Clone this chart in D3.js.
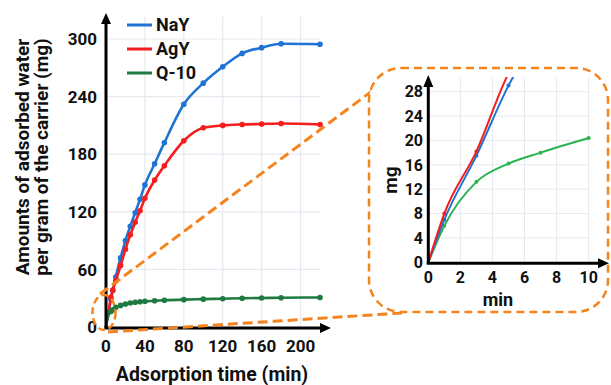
<!DOCTYPE html>
<html>
<head>
<meta charset="utf-8">
<script src="https://cdn.jsdelivr.net/npm/d3@7"></script>
<style>
  body { margin: 0; background: #fff; overflow: hidden; }
  text { font-family: "Liberation Sans Narrow", "Roboto", sans-serif; font-weight: bold; fill: #111; }
</style>
</head>
<body>
<svg id="main-svg" width="611" height="385"></svg>
<script>
'use strict';

// adsorption time (min)
const times = [0, 1, 3, 5, 7, 10, 15, 20, 25, 30, 35, 40, 50, 60, 80, 100, 120, 140, 160, 180, 220];
// mg water per gram carrier
const nay = [0, 7, 17.5, 29, 38, 52, 72, 90, 105, 119, 133, 148, 170, 192, 232, 254, 271, 285, 291, 295, 294.5];
const agy = [0, 8, 18.2, 31, 38.5, 48, 64, 81, 96, 109, 121, 134, 153, 168, 194, 207.5, 210, 211, 211.5, 212, 211];
const q10 = [0, 6, 13.2, 16.2, 18, 20.4, 22.5, 24, 25, 25.8, 26.3, 26.8, 27.3, 27.8, 28.5, 29, 29.5, 30, 30.2, 30.5, 30.8];

const series_names = ['NaY', 'AgY', 'Q-10'];
const main_ticks_x = [0, 40, 80, 120, 160, 200];
const main_ticks_y = [0, 60, 120, 180, 240, 300];
const inset_ticks_x = [0, 2, 4, 6, 8, 10];
const inset_ticks_y = [0, 4, 8, 12, 16, 20, 24, 28];

const colors = {
    'NaY': '#1f74d3',
    'AgY': '#f51d1d',
    'Q-10': '#1d7a40',
    'Q-10 inset': '#2bb34f',
    'grid': '#e6e9f0',
    'orange': '#f5841f',
};

const series = [
    {name: 'NaY', values: nay},
    {name: 'AgY', values: agy},
    {name: 'Q-10', values: q10},
];
series.forEach(s => { s.points = times.map((t, i) => ({t: t, v: s.values[i]})); });

const svg = d3.select('#main-svg');

// ---------- main chart ----------
const x = d3.scaleLinear().domain([0, 220]).range([106, 320]);
const y = d3.scaleLinear().domain([0, 300]).range([327, 39]);

const g = svg.append('g');

// grid
g.selectAll('.hgrid')
    .data(main_ticks_y.slice(1))
    .enter().append('line')
    .attr('x1', x(0)).attr('x2', x(220))
    .attr('y1', d => y(d)).attr('y2', d => y(d))
    .attr('stroke', colors.grid).attr('stroke-width', 1.2);

g.selectAll('.vgrid')
    .data(main_ticks_x.slice(1))
    .enter().append('line')
    .attr('x1', d => x(d)).attr('x2', d => x(d))
    .attr('y1', y(0)).attr('y2', 17)
    .attr('stroke', colors.grid).attr('stroke-width', 1.2);

// lines
const line = d3.line()
    .x(d => x(d.t)).y(d => y(d.v))
    .curve(d3.curveMonotoneX);

series.forEach(s => {
    g.append('path')
        .datum(s.points)
        .attr('d', line)
        .attr('fill', 'none')
        .attr('stroke', colors[s.name])
        .attr('stroke-width', 2.6);

    g.selectAll(null)
        .data(s.points.filter(p => p.t >= 5))
        .enter().append('circle')
        .attr('cx', d => x(d.t)).attr('cy', d => y(d.v))
        .attr('r', 2.8)
        .attr('fill', colors[s.name]);
});

// axes with arrows
g.append('line')
    .attr('x1', x(0)).attr('x2', x(0))
    .attr('y1', y(0) + 1.5).attr('y2', 22)
    .attr('stroke', '#000').attr('stroke-width', 3);
g.append('path')
    .attr('d', `M${x(0) - 5},24 L${x(0)},13 L${x(0) + 5},24 Z`)
    .attr('fill', '#000');

g.append('line')
    .attr('x1', x(0) - 1.5).attr('x2', 322)
    .attr('y1', y(0) + 1).attr('y2', y(0) + 1)
    .attr('stroke', '#000').attr('stroke-width', 3);
g.append('path')
    .attr('d', `M320,${y(0) + 1 - 5} L331,${y(0) + 1} L320,${y(0) + 1 + 5} Z`)
    .attr('fill', '#000');

// tick labels
g.selectAll('.ytl')
    .data(main_ticks_y)
    .enter().append('text')
    .attr('x', 97).attr('y', d => y(d))
    .attr('dy', '0.36em')
    .attr('text-anchor', 'end')
    .attr('font-size', 17)
    .text(d => d);

g.selectAll('.xtl')
    .data(main_ticks_x)
    .enter().append('text')
    .attr('x', d => x(d)).attr('y', 346)
    .attr('dy', '0.36em')
    .attr('text-anchor', 'middle')
    .attr('font-size', 17)
    .text(d => d);

// axis titles
g.append('text')
    .attr('x', 212).attr('y', 374)
    .attr('dy', '0.36em')
    .attr('text-anchor', 'middle')
    .attr('font-size', 19.5)
    .text('Adsorption time (min)');

const ytitle = g.append('text')
    .attr('transform', 'translate(22,157) rotate(-90)')
    .attr('text-anchor', 'middle')
    .attr('font-size', 19);
ytitle.append('tspan').attr('x', 0).attr('dy', '0.36em').text('Amounts of adsorbed water');
ytitle.append('tspan').attr('x', 0).attr('dy', '1.0em').text('per gram of the carrier (mg)');

// legend
const legend = g.selectAll('.legend')
    .data(series_names)
    .enter().append('g')
    .attr('transform', (d, i) => `translate(127,${25 + i * 24})`);
legend.append('line')
    .attr('x1', 0).attr('x2', 25)
    .attr('stroke', d => colors[d]).attr('stroke-width', 3);
legend.append('text')
    .attr('x', 29).attr('dy', '0.36em')
    .attr('font-size', 18)
    .text(d => d);

// ---------- zoom callout ----------
const dash = g.append('g')
    .attr('fill', 'none')
    .attr('stroke', colors.orange)
    .attr('stroke-width', 3)
    .attr('stroke-dasharray', '10,5');

dash.append('ellipse')
    .attr('cx', 104).attr('cy', 312.5)
    .attr('rx', 11.5).attr('ry', 17.5)
    .attr('stroke-dasharray', '7,4')
    .attr('stroke-width', 2.5);
dash.append('line')
    .attr('x1', 100).attr('y1', 294)
    .attr('x2', 376).attr('y2', 88);
dash.append('line')
    .attr('x1', 108).attr('y1', 332)
    .attr('x2', 402).attr('y2', 313);

dash.append('rect')
    .attr('x', 369).attr('y', 68)
    .attr('width', 239).attr('height', 244)
    .attr('rx', 32).attr('ry', 32)
    .attr('fill', '#fff')
    .attr('stroke-dasharray', '8,5')
    .attr('stroke-width', 2.5);

// ---------- inset ----------
const xi = d3.scaleLinear().domain([0, 10]).range([428.3, 588.7]);
const yi = d3.scaleLinear().domain([0, 28]).range([262.3, 91.7]);
const inset = svg.append('g');

inset.append('clipPath').attr('id', 'inset-clip')
    .append('rect')
    .attr('x', xi(0)).attr('y', yi(30.4))
    .attr('width', xi(10.5) - xi(0)).attr('height', yi(0) - yi(30.4));

inset.selectAll('.hgrid')
    .data(inset_ticks_y.slice(1))
    .enter().append('line')
    .attr('x1', xi(0)).attr('x2', xi(10))
    .attr('y1', d => yi(d)).attr('y2', d => yi(d))
    .attr('stroke', colors.grid).attr('stroke-width', 1);

inset.selectAll('.vgrid')
    .data(inset_ticks_x.slice(1))
    .enter().append('line')
    .attr('x1', d => xi(d)).attr('x2', d => xi(d))
    .attr('y1', yi(0)).attr('y2', yi(30.4))
    .attr('stroke', colors.grid).attr('stroke-width', 1);

const line_i = d3.line()
    .x(d => xi(d.t)).y(d => yi(d.v))
    .curve(d3.curveMonotoneX);

const inset_lines = inset.append('g').attr('clip-path', 'url(#inset-clip)');
[series[2], series[0], series[1]].forEach(s => {
    const pts = s.points.filter(p => p.t <= 10);
    const c = s.name == 'Q-10' ? colors['Q-10 inset'] : colors[s.name];
    inset_lines.append('path')
        .datum(pts)
        .attr('d', line_i)
        .attr('fill', 'none')
        .attr('stroke', c)
        .attr('stroke-width', 2);
    inset_lines.selectAll(null)
        .data(pts.filter(p => p.t > 0))
        .enter().append('circle')
        .attr('cx', d => xi(d.t)).attr('cy', d => yi(d.v))
        .attr('r', 2)
        .attr('fill', c);
});

// inset axes
inset.append('line')
    .attr('x1', xi(0)).attr('x2', xi(0))
    .attr('y1', yi(0) + 1.5).attr('y2', 84)
    .attr('stroke', '#000').attr('stroke-width', 3);
inset.append('path')
    .attr('d', `M${xi(0) - 5},87 L${xi(0)},75 L${xi(0) + 5},87 Z`)
    .attr('fill', '#000');
inset.append('line')
    .attr('x1', xi(0) - 1.5).attr('x2', 600)
    .attr('y1', yi(0) + 1).attr('y2', yi(0) + 1)
    .attr('stroke', '#000').attr('stroke-width', 3);
inset.append('path')
    .attr('d', `M598,${yi(0) + 1 - 5} L609,${yi(0) + 1} L598,${yi(0) + 1 + 5} Z`)
    .attr('fill', '#000');

inset.selectAll('.ytl')
    .data(inset_ticks_y)
    .enter().append('text')
    .attr('x', 423).attr('y', d => yi(d))
    .attr('dy', '0.36em')
    .attr('text-anchor', 'end')
    .attr('font-size', 16)
    .text(d => d);

inset.selectAll('.xtl')
    .data(inset_ticks_x)
    .enter().append('text')
    .attr('x', d => xi(d)).attr('y', 277)
    .attr('dy', '0.36em')
    .attr('text-anchor', 'middle')
    .attr('font-size', 16)
    .text(d => d);

inset.append('text')
    .attr('x', 498).attr('y', 300)
    .attr('dy', '0.36em')
    .attr('text-anchor', 'middle')
    .attr('font-size', 18)
    .text('min');

inset.append('text')
    .attr('transform', 'translate(390,180) rotate(-90)')
    .attr('dy', '0.36em')
    .attr('text-anchor', 'middle')
    .attr('font-size', 19)
    .text('mg');
</script>
</body>
</html>
